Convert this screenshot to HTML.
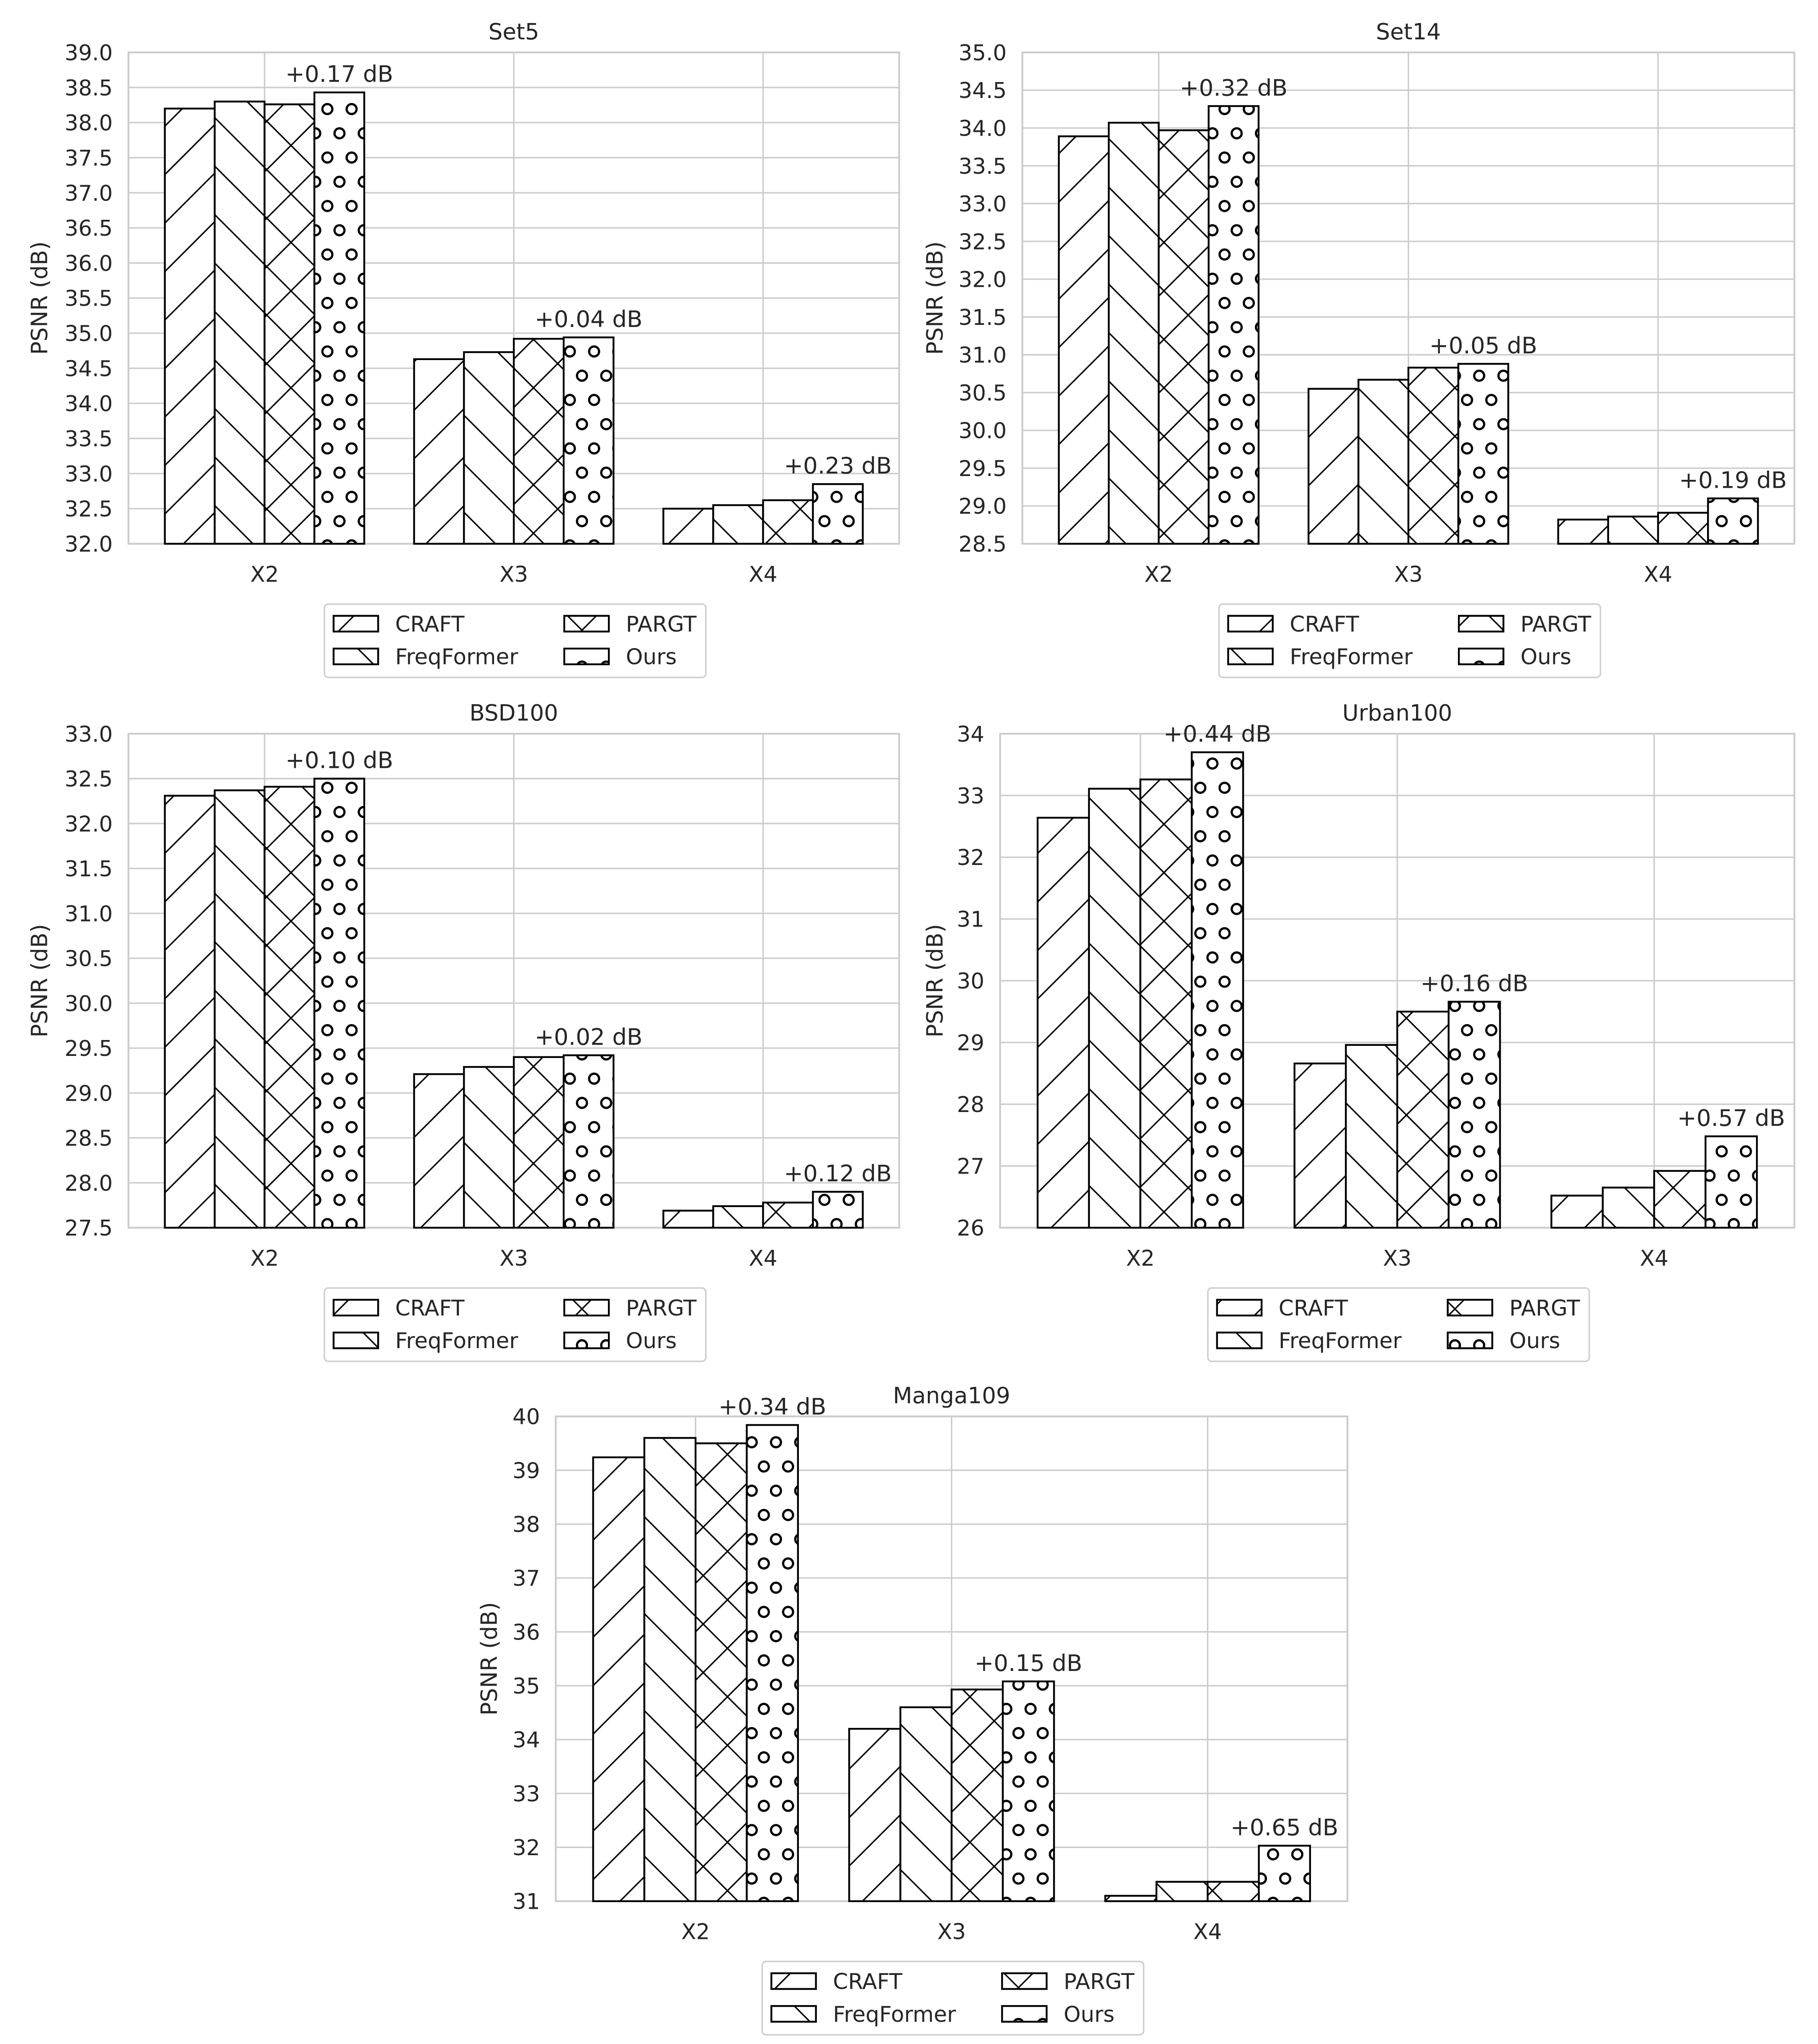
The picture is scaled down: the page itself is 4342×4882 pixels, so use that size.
<!DOCTYPE html>
<html><head><meta charset="utf-8"><style>
html,body{margin:0;padding:0;background:#fff}
svg{display:block}
text{font-family:"DejaVu Sans","Liberation Sans",sans-serif;fill:#262626}
</style></head><body>
<svg id="fig" width="4342" height="4882" viewBox="0 0 1387 1560" preserveAspectRatio="none" xmlns="http://www.w3.org/2000/svg">
<defs>
<pattern id="h-craft" patternUnits="userSpaceOnUse" width="37" height="37"><path d="M-1,38 L38,-1 M-10,10 L10,-10 M27,47 L47,27" stroke="#000" stroke-width="1.1"/></pattern>
<pattern id="h-freq" patternUnits="userSpaceOnUse" width="37" height="37"><path d="M-1,-1 L38,38 M-10,27 L10,47 M27,-10 L47,10" stroke="#000" stroke-width="1.1"/></pattern>
<pattern id="h-pargt" patternUnits="userSpaceOnUse" width="37" height="37"><path d="M-1,38 L38,-1 M-10,10 L10,-10 M27,47 L47,27 M-1,-1 L38,38 M-10,27 L10,47 M27,-10 L47,10" stroke="#000" stroke-width="1.1"/></pattern>
<pattern id="h-ours" patternUnits="userSpaceOnUse" width="18.5" height="37"><g fill="none" stroke="#000" stroke-width="1.7"><circle cx="9.25" cy="9.25" r="3.8"/><circle cx="0" cy="27.75" r="3.8"/><circle cx="18.5" cy="27.75" r="3.8"/></g></pattern>
</defs>
</svg>
<script>
const categories = ["X2","X3","X4"];
const methods = ["CRAFT","FreqFormer","PARGT","Ours"];
const set5Craft=[38.20,34.63,32.50], set5Freq=[38.30,34.73,32.55], set5Pargt=[38.26,34.92,32.62], set5Ours=[38.43,34.94,32.85];
const set5Gain=["+0.17 dB","+0.04 dB","+0.23 dB"];
const set14Craft=[33.89,30.55,28.82], set14Freq=[34.07,30.67,28.86], set14Pargt=[33.97,30.83,28.91], set14Ours=[34.29,30.88,29.10];
const set14Gain=["+0.32 dB","+0.05 dB","+0.19 dB"];
const bsdCraft=[32.31,29.21,27.69], bsdFreq=[32.37,29.29,27.74], bsdPargt=[32.41,29.40,27.78], bsdOurs=[32.50,29.42,27.90];
const bsdGain=["+0.10 dB","+0.02 dB","+0.12 dB"];
const urbanCraft=[32.64,28.66,26.52], urbanFreq=[33.11,28.96,26.65], urbanPargt=[33.26,29.50,26.92], urbanOurs=[33.70,29.66,27.48];
const urbanGain=["+0.44 dB","+0.16 dB","+0.57 dB"];
const mangaCraft=[39.24,34.20,31.10], mangaFreq=[39.60,34.60,31.36], mangaPargt=[39.50,34.93,31.36], mangaOurs=[39.84,35.08,32.03];
const mangaGain=["+0.34 dB","+0.15 dB","+0.65 dB"];
const set5Ticks=[32.0,32.5,33.0,33.5,34.0,34.5,35.0,35.5,36.0,36.5,37.0,37.5,38.0,38.5,39.0];
const set14Ticks=[28.5,29.0,29.5,30.0,30.5,31.0,31.5,32.0,32.5,33.0,33.5,34.0,34.5,35.0];
const bsdTicks=[27.5,28.0,28.5,29.0,29.5,30.0,30.5,31.0,31.5,32.0,32.5,33.0];
const urbanTicks=[26,27,28,29,30,31,32,33,34];
const mangaTicks=[31,32,33,34,35,36,37,38,39,40];

const NS="http://www.w3.org/2000/svg";
const svg=document.getElementById('fig');
const hatches=["url(#h-craft)","url(#h-freq)","url(#h-pargt)","url(#h-ours)"];
function mk(tag,attrs,parent){const e=document.createElementNS(NS,tag);for(const k in attrs)e.setAttribute(k,attrs[k]);(parent||svg).appendChild(e);return e;}

function panel(p){
  const g=mk('g',{});
  
  
  const x0=p.l,x1=p.r,y0=p.t,y1=p.b;
  const ymin=p.ticks[0],ymax=p.ticks[p.ticks.length-1];
  const Y=v=>y1-(v-ymin)/(ymax-ymin)*(y1-y0);
  const xlo=-0.546,xhi=2.546;
  const X=v=>x0+(v-xlo)/(xhi-xlo)*(x1-x0);
  const bw=0.2*(x1-x0)/(xhi-xlo);
  p.ticks.forEach((t,i)=>{
    const ln=mk('line',{x1:x0,x2:x1,y1:Y(t),y2:Y(t),stroke:'#cccccc','stroke-width':1.1},g);
    
    
    const tx=mk('text',{x:x0-12,y:Y(t)+6,'text-anchor':'end','font-size':16.5},g);
    tx.textContent=p.dec?t.toFixed(1):String(t);
    
    
  });
  categories.forEach((c,i)=>{
    const ln=mk('line',{x1:X(i),x2:X(i),y1:y0,y2:y1,stroke:'#cccccc','stroke-width':1.1},g);
    
    
    const tx=mk('text',{x:X(i),y:y1+29,'text-anchor':'middle','font-size':16.5},g);
    tx.textContent=c;
    
    
  });
  const fr=mk('rect',{x:x0,y:y0,width:x1-x0,height:y1-y0,fill:'none',stroke:'#cccccc','stroke-width':1.4},g);
  
  
  p.series.forEach((vals,s)=>{
    vals.forEach((v,i)=>{
      const cx=X(i)+(s-1.5)*bw;
      const r=mk('rect',{x:cx-bw/2,y:Y(v),width:bw,height:y1-Y(v),fill:'#fff',stroke:'none'},g);
      
      
      const h=mk('rect',{x:cx-bw/2,y:Y(v),width:bw,height:y1-Y(v),fill:hatches[s],stroke:'#000','stroke-width':1.4},g);
      
      
    });
  });
  p.gain.forEach((txt,i)=>{
    const v=p.series[3][i];
    const tx=mk('text',{x:X(i)+1.5*bw,y:Y(v)-8,'text-anchor':'middle','font-size':17.5},g);
    tx.textContent=txt;
    
    
  });
  const ti=mk('text',{x:(x0+x1)/2,y:y0-10,'text-anchor':'middle','font-size':17},g);
  ti.textContent=p.title;
  
  
  const yl=mk('text',{x:p.ylx,y:(y0+y1)/2,'text-anchor':'middle','font-size':17,transform:`rotate(-90 ${p.ylx} ${(y0+y1)/2})`},g);
  yl.textContent='PSNR (dB)';
  
  
  const lw=291,lh=56,lx=(x0+x1)/2-lw/2+1,ly=y1+46;
  const lg=mk('g',{},g);
  
  
  mk('rect',{x:lx,y:ly,width:lw,height:lh,rx:3,fill:'#fff',stroke:'#d0d0d0','stroke-width':1.2},lg);
  methods.forEach((m,s)=>{
    const col=s===0||s===1?0:1,row=s===0||s===2?0:1;
    const hx=lx+7+col*176,hy=ly+9+row*25;
    const e=mk('g',{},lg);
    
    
    mk('rect',{x:hx,y:hy,width:34,height:12,fill:'#fff'},e);
    mk('rect',{x:hx,y:hy,width:34,height:12,fill:hatches[s],stroke:'#000','stroke-width':1.4},e);
    const t=mk('text',{x:hx+47,y:hy+12,'font-size':16.5},e);
    t.textContent=m;
  });
}
panel({key:'set5',title:'Set5',l:98,r:686,t:40,b:415,ticks:set5Ticks,dec:true,series:[set5Craft,set5Freq,set5Pargt,set5Ours],gain:set5Gain,ylx:36});
panel({key:'set14',title:'Set14',l:780,r:1369,t:40,b:415,ticks:set14Ticks,dec:true,series:[set14Craft,set14Freq,set14Pargt,set14Ours],gain:set14Gain,ylx:719});
panel({key:'bsd100',title:'BSD100',l:98,r:686,t:560,b:937,ticks:bsdTicks,dec:true,series:[bsdCraft,bsdFreq,bsdPargt,bsdOurs],gain:bsdGain,ylx:36});
panel({key:'urban100',title:'Urban100',l:763,r:1369,t:560,b:937,ticks:urbanTicks,dec:false,series:[urbanCraft,urbanFreq,urbanPargt,urbanOurs],gain:urbanGain,ylx:719});
panel({key:'manga109',title:'Manga109',l:424,r:1028,t:1081,b:1451,ticks:mangaTicks,dec:false,series:[mangaCraft,mangaFreq,mangaPargt,mangaOurs],gain:mangaGain,ylx:379});
</script>
</body></html>
